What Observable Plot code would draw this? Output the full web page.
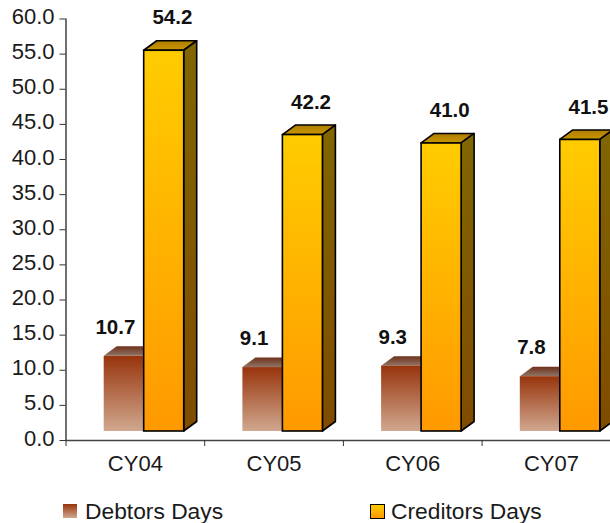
<!DOCTYPE html>
<html>
<head>
<meta charset="utf-8">
<script src="https://cdn.jsdelivr.net/npm/d3@7"></script>
<script src="https://cdn.jsdelivr.net/npm/@observablehq/plot@0.6"></script>
<style>
  html, body { margin: 0; padding: 0; background: #fff; }
  #chart svg { display: block; }
  #legend { position: relative; height: 33px; font: 22.8px "Liberation Sans", Arial, sans-serif; color: #1a1a1a; }
  #legend span { position: absolute; top: 0; white-space: nowrap; }
  #legend i { position: absolute; display: block; box-sizing: border-box; }
</style>
</head>
<body>
<div id="chart"></div>
<div id="legend"></div>
<script>
const years = ["CY04", "CY05", "CY06", "CY07"];
const debtorsDays = [10.7, 9.1, 9.3, 7.8];
const creditorsDays = [54.2, 42.2, 41.0, 41.5];
const yTicks = [0, 5, 10, 15, 20, 25, 30, 35, 40, 45, 50, 55, 60];

const debtors = years.map((year, i) => ({year, value: debtorsDays[i]}));
const creditors = years.map((year, i) => ({year, value: creditorsDays[i]}));

// Bar placement inside each category band, and the extrusion of the 3D look.
const bandWidth = 138.7;
const barWidth = 40;
const lift = -9;
const depthX = 13;
const depthY = -9.5;
const debtorsInset = 38.2;
const creditorsInset = debtorsInset + barWidth;

const font = '"Liberation Sans", Arial, sans-serif';

// Vertical gradients used by the bars and their extruded faces.
function gradients(index, scales, values, dimensions, context) {
  const NS = "http://www.w3.org/2000/svg";
  const doc = context.document;
  const defs = doc.createElementNS(NS, "defs");
  const stops = {
    debtorsFront: ["#98340c", "#d0a88f"],
    debtorsTop: ["#70301a", "#8f7566"],
    creditorsFront: ["#ffcc00", "#ff9900"],
    creditorsTop: ["#b07c00", "#c89600"],
    creditorsSide: ["#806600", "#804c00"]
  };
  for (const [id, [a, b]] of Object.entries(stops)) {
    const g = doc.createElementNS(NS, "linearGradient");
    g.setAttribute("id", id);
    g.setAttribute("x1", 0); g.setAttribute("y1", 0);
    g.setAttribute("x2", 0); g.setAttribute("y2", 1);
    [[0, a], [1, b]].forEach(([o, c]) => {
      const s = doc.createElementNS(NS, "stop");
      s.setAttribute("offset", o);
      s.setAttribute("stop-color", c);
      g.appendChild(s);
    });
    defs.appendChild(g);
  }
  return defs;
}

// Top and side faces, derived from the same scales as the front of each bar.
function extrusion(rows, inset, {top, side, stroke}) {
  return (index, {x, y}, values, dimensions, context) => {
    const NS = "http://www.w3.org/2000/svg";
    const doc = context.document;
    const g = doc.createElementNS(NS, "g");
    const face = (d, fill) => {
      const p = doc.createElementNS(NS, "path");
      p.setAttribute("d", d);
      p.setAttribute("fill", fill);
      if (stroke) {
        p.setAttribute("stroke", stroke);
        p.setAttribute("stroke-width", 1.6);
        p.setAttribute("stroke-linejoin", "round");
      }
      g.appendChild(p);
    };
    for (const {year, value} of rows) {
      const x0 = x(year) + inset;
      const x1 = x0 + barWidth;
      const yTop = y(value) + lift;
      const yBase = y(0) + lift;
      face(`M${x0},${yTop}L${x0 + depthX},${yTop + depthY}L${x1 + depthX},${yTop + depthY}L${x1},${yTop}Z`, top);
      if (side) face(`M${x1},${yTop}L${x1 + depthX},${yTop + depthY}L${x1 + depthX},${yBase + depthY}L${x1},${yBase}Z`, side);
    }
    return g;
  };
}

const chart = Plot.plot({
  width: 610,
  height: 490,
  marginTop: 18.5,
  marginBottom: 50,
  marginLeft: 65.5,
  marginRight: 0,
  style: {background: "transparent", fontFamily: font, overflow: "hidden"},
  x: {type: "band", domain: years, range: [65.5, 65.5 + 4 * bandWidth], paddingInner: 0, paddingOuter: 0, align: 0, round: false},
  y: {type: "linear", domain: [0, 60]},
  marks: [
    gradients,
    Plot.frame({anchor: "left", stroke: "#111", strokeWidth: 1.2}),
    Plot.ruleY([0], {stroke: "#444", strokeWidth: 1.4}),
    Plot.axisY({ticks: yTicks, anchor: "left", tickSize: 6, text: null, label: null, stroke: "#333"}),
    Plot.axisY({
      ticks: yTicks,
      tickFormat: d => d.toFixed(1),
      anchor: "left",
      tickSize: 0,
      tickPadding: 11.5,
      dy: -2,
      fontSize: 22,
      color: "#1a1a1a",
      label: null
    }),
    Plot.axisX({anchor: "bottom", tickSize: 6, dx: -bandWidth / 2, text: null, label: null, stroke: "#333"}),
    Plot.axisX({anchor: "bottom", tickSize: 0, tickPadding: 15, fontSize: 22, color: "#1a1a1a", label: null}),
    extrusion(debtors, debtorsInset, {top: "url(#debtorsTop)"}),
    Plot.barY(debtors, {
      x: "year", y: "value",
      insetLeft: debtorsInset,
      insetRight: bandWidth - debtorsInset - barWidth,
      dy: lift,
      fill: "url(#debtorsFront)"
    }),
    extrusion(creditors, creditorsInset, {top: "url(#creditorsTop)", side: "url(#creditorsSide)", stroke: "#000"}),
    Plot.barY(creditors, {
      x: "year", y: "value",
      insetLeft: creditorsInset,
      insetRight: bandWidth - creditorsInset - barWidth,
      dy: lift,
      fill: "url(#creditorsFront)",
      stroke: "#000",
      strokeWidth: 1.6
    }),
    Plot.text(debtors, {
      x: "year", y: "value", text: d => d.value.toFixed(1),
      dx: -20, dy: -38, textAnchor: "middle", fontSize: 20.5, fontWeight: "bold", fill: "#111"
    }),
    Plot.text(creditors, {
      x: "year", y: "value", text: d => d.value.toFixed(1),
      dx: 37, dy: -42, textAnchor: "middle", fontSize: 20.5, fontWeight: "bold", fill: "#111"
    })
  ]
});
document.getElementById("chart").appendChild(chart);

// Legend below the plot.
const legendItems = [
  {label: "Debtors Days", swatch: 63, text: 85, style: "background:linear-gradient(#98340c,#d0a88f);width:14px;height:14px;top:14px"},
  {label: "Creditors Days", swatch: 369.5, text: 391, style: "background:linear-gradient(#ffcc00,#ff9900);border:1.5px solid #000;width:15px;height:15px;top:14px"}
];
const legend = document.getElementById("legend");
for (const item of legendItems) {
  const sw = document.createElement("i");
  sw.style.cssText = item.style + ";left:" + item.swatch + "px";
  const tx = document.createElement("span");
  tx.textContent = item.label;
  tx.style.left = item.text + "px";
  tx.style.top = "8px";
  legend.append(sw, tx);
}
</script>
</body>
</html>
